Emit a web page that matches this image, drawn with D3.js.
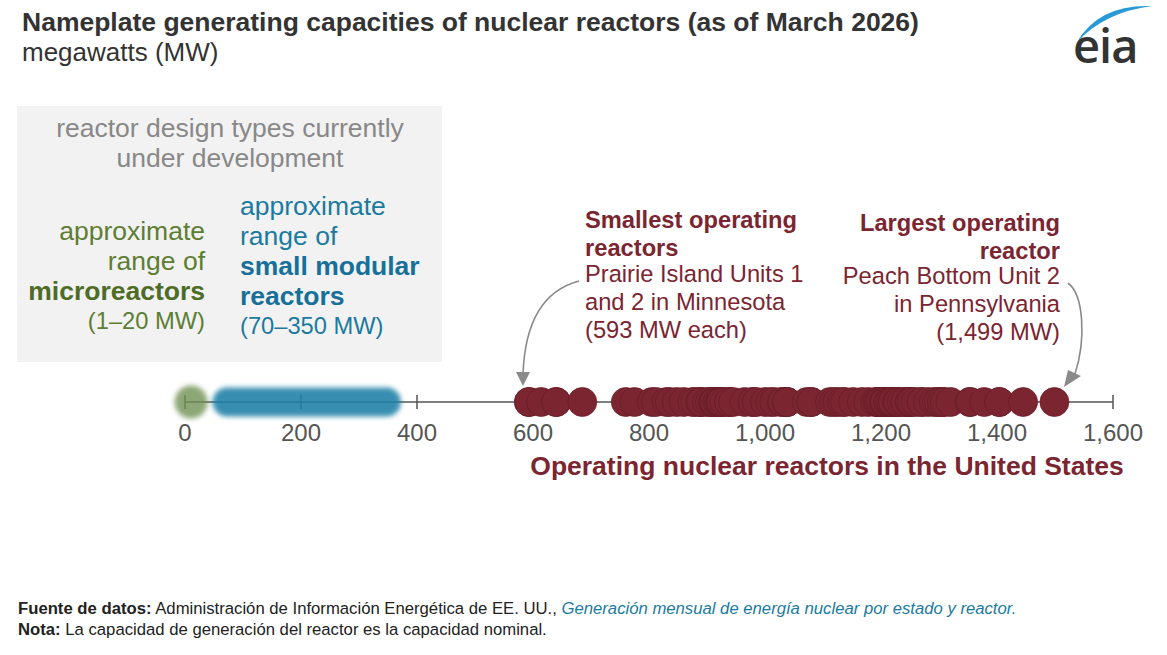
<!DOCTYPE html>
<meta charset="utf-8" />
<script src="https://d3js.org/d3.v7.min.js"></script>
<style>
  body { margin: 0; background: #fff; }
  text { font-family: "Liberation Sans", Arial, sans-serif; }
</style>
<div id="chart"></div>
<script>
  // reactor nameplate capacities (MW)
  const reactors = [
    593, 593, 614, 640, 640, 685,
    760, 775, 805, 812, 830, 836, 848,
    860, 875, 880, 888, 890, 890, 900, 905, 910, 911, 913, 913, 918, 920,
    923, 923, 924, 925, 930, 938, 938, 945,
    965, 979, 979, 986, 1000, 1009, 1016, 1029, 1030, 1038, 1038, 1038,
    1072, 1080, 1080, 1112, 1119, 1125, 1133, 1138, 1152, 1167, 1178, 1190,
    1194, 1194, 1197, 1197, 1200, 1205, 1205, 1207, 1207, 1212, 1215, 1215,
    1218, 1221, 1221, 1228, 1228, 1230, 1236, 1242, 1242, 1250, 1250, 1250,
    1253, 1260, 1270, 1270, 1281, 1291, 1296, 1300, 1305, 1305, 1310, 1320,
    1353, 1354, 1378, 1404, 1404, 1445, 1499
  ];
  const microRange = [1, 20];
  const smrRange = [70, 350];
  const tickValues = [0, 200, 400, 600, 800, 1000, 1200, 1400, 1600];

  const W = 1167, H = 655;
  const axisY = 402;

  const svg = d3.select("#chart").append("svg")
    .attr("width", W).attr("height", H);

  const defs = svg.append("defs");
  defs.append("filter").attr("id", "soft")
    .attr("x", "-30%").attr("y", "-60%").attr("width", "160%").attr("height", "220%")
    .append("feGaussianBlur").attr("stdDeviation", 2.8);

  const x = d3.scaleLinear().domain([0, 1600]).range([185, 1113]);

  // title
  svg.append("text").attr("x", 22).attr("y", 31)
    .style("font-size", "26.5px").style("font-weight", "bold").style("fill", "#333")
    .text("Nameplate generating capacities of nuclear reactors (as of March 2026)");
  svg.append("text").attr("x", 22).attr("y", 61)
    .style("font-size", "26px").style("fill", "#333")
    .text("megawatts (MW)");

  // eia logo
  svg.append("path")
    .attr("d", "M1077,42 Q1099,4 1152,6 Q1105,12 1077,42 Z")
    .style("fill", "#2a9ad6");
  svg.append("text").attr("x", 1073).attr("y", 63)
    .style("font-family", "'Open Sans', sans-serif")
    .style("font-size", "47px").style("font-weight", "600").style("fill", "#333")
    .style("letter-spacing", "-1px")
    .text("eia");

  // gray box
  svg.append("rect").attr("x", 17).attr("y", 106).attr("width", 425).attr("height", 256)
    .style("fill", "#f2f2f2");
  const head = svg.append("text").attr("text-anchor", "middle")
    .style("font-size", "26.5px").style("fill", "#888");
  head.append("tspan").attr("x", 230).attr("y", 137).text("reactor design types currently");
  head.append("tspan").attr("x", 230).attr("y", 167).text("under development");

  const green = "#5d7d33", blue = "#1b7aa0";
  const micro = svg.append("text").attr("text-anchor", "end")
    .style("font-size", "26.5px").style("fill", green);
  micro.append("tspan").attr("x", 205).attr("y", 240).text("approximate");
  micro.append("tspan").attr("x", 205).attr("y", 270).text("range of");
  micro.append("tspan").attr("x", 205).attr("y", 300)
    .style("font-weight", "bold").style("fill", "#4e6c26").text("microreactors");
  micro.append("tspan").attr("x", 205).attr("y", 329)
    .style("font-size", "23.7px").text("(1\u201320 MW)");

  const smr = svg.append("text")
    .style("font-size", "26.5px").style("fill", blue);
  smr.append("tspan").attr("x", 240).attr("y", 215).text("approximate");
  smr.append("tspan").attr("x", 240).attr("y", 245).text("range of");
  smr.append("tspan").attr("x", 240).attr("y", 275)
    .style("font-weight", "bold").style("fill", "#16709a").text("small modular");
  smr.append("tspan").attr("x", 240).attr("y", 305)
    .style("font-weight", "bold").style("fill", "#16709a").text("reactors");
  smr.append("tspan").attr("x", 240).attr("y", 334)
    .style("font-size", "23.7px").text("(70\u2013350 MW)");

  // axis
  svg.append("line")
    .attr("x1", x(0)).attr("x2", x(1600)).attr("y1", axisY).attr("y2", axisY)
    .style("stroke", "#555").style("stroke-width", 1.5);
  svg.selectAll(".tick").data(tickValues).join("line")
    .attr("class", "tick")
    .attr("x1", d => x(d)).attr("x2", d => x(d))
    .attr("y1", axisY - 7).attr("y2", axisY + 7)
    .style("stroke", "#555").style("stroke-width", 1.5);
  svg.selectAll(".tlab").data(tickValues).join("text")
    .attr("class", "tlab")
    .attr("x", d => x(d)).attr("y", 441)
    .attr("text-anchor", "middle")
    .style("font-size", "24px").style("fill", "#555")
    .text(d => d3.format(",")(d));

  // development ranges (blurred bands)
  svg.append("rect")
    .attr("x", x(smrRange[0]) - 13).attr("y", axisY - 14.5)
    .attr("width", x(smrRange[1]) - x(smrRange[0]) + 26).attr("height", 29)
    .attr("rx", 14.5)
    .style("fill", "#1f7fa6").style("opacity", 0.88)
    .attr("filter", "url(#soft)");
  svg.append("circle")
    .attr("cx", (x(microRange[0]) + x(microRange[1])) / 2).attr("cy", axisY)
    .attr("r", 16.5)
    .style("fill", "#6f9152").style("opacity", 0.8)
    .attr("filter", "url(#soft)");

  // operating reactors
  svg.selectAll(".dot").data(reactors).join("circle")
    .attr("class", "dot")
    .attr("cx", d => x(d)).attr("cy", axisY).attr("r", 14.5)
    .style("fill", "#7b2531").style("stroke", "#651c27").style("stroke-width", 0.7);

  svg.append("text").attr("x", 827).attr("y", 475).attr("text-anchor", "middle")
    .style("font-size", "26.5px").style("font-weight", "bold").style("fill", "#7b2531")
    .text("Operating nuclear reactors in the United States");

  // annotations
  const maroon = "#7b2531";
  const a1 = svg.append("text").style("font-size", "23.7px").style("fill", maroon);
  a1.append("tspan").attr("x", 585).attr("y", 228).style("font-weight", "bold").text("Smallest operating");
  a1.append("tspan").attr("x", 585).attr("y", 256).style("font-weight", "bold").text("reactors");
  a1.append("tspan").attr("x", 585).attr("y", 282).text("Prairie Island Units 1");
  a1.append("tspan").attr("x", 585).attr("y", 310).text("and 2 in Minnesota");
  a1.append("tspan").attr("x", 585).attr("y", 338).text("(593 MW each)");

  const a2 = svg.append("text").attr("text-anchor", "end")
    .style("font-size", "23.7px").style("fill", maroon);
  a2.append("tspan").attr("x", 1060).attr("y", 231).style("font-weight", "bold").text("Largest operating");
  a2.append("tspan").attr("x", 1060).attr("y", 259).style("font-weight", "bold").text("reactor");
  a2.append("tspan").attr("x", 1060).attr("y", 284).text("Peach Bottom Unit 2");
  a2.append("tspan").attr("x", 1060).attr("y", 312).text("in Pennsylvania");
  a2.append("tspan").attr("x", 1060).attr("y", 340).text("(1,499 MW)");

  // arrows
  const arrowColor = "#8a8a8a";
  svg.append("path")
    .attr("d", "M579,281 C545,290 525,320 523,374")
    .style("fill", "none").style("stroke", arrowColor).style("stroke-width", 1.6);
  svg.append("path")
    .attr("d", "M516,372 L530,372 L523,386 Z").style("fill", arrowColor);
  svg.append("path")
    .attr("d", "M1068,283 C1084,295 1086,340 1075,374")
    .style("fill", "none").style("stroke", arrowColor).style("stroke-width", 1.6);
  svg.append("path")
    .attr("d", "M1068,370 L1081,376 L1064,387 Z").style("fill", arrowColor);

  // footer
  const f1 = svg.append("text").attr("x", 18).attr("y", 614)
    .style("font-size", "16.7px").style("fill", "#222");
  f1.append("tspan").style("font-weight", "bold").text("Fuente de datos:");
  f1.append("tspan").text(" Administración de Información Energética de EE. UU., ");
  f1.append("tspan").style("font-style", "italic").style("fill", "#1b7aa0")
    .text("Generación mensual de energía nuclear por estado y reactor.");
  const f2 = svg.append("text").attr("x", 18).attr("y", 635)
    .style("font-size", "16.7px").style("fill", "#222");
  f2.append("tspan").style("font-weight", "bold").text("Nota:");
  f2.append("tspan").text(" La capacidad de generación del reactor es la capacidad nominal.");
</script>
